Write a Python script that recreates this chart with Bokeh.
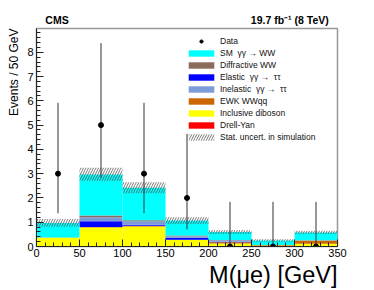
import numpy as np
from bokeh.plotting import figure
from bokeh.models import (Range1d, SingleIntervalTicker, FixedTicker, LinearAxis,
                          Legend, LegendItem, Title)
from bokeh.embed import file_html
from bokeh.resources import INLINE

# ---------------- data ----------------
bin_edges = [0, 50, 100, 150, 200, 250, 300, 350]
drell_yan = [0.01, 0.01, 0.01, 0.01, 0.005, 0.0, 0.0]
inclusive_diboson = [0.35, 0.77, 0.81, 0.26, 0.12, 0.04, 0.11]
ewk_wwqq = [0.01, 0.02, 0.03, 0.01, 0.05, 0.02, 0.14]
elastic_tautau = [0.0, 0.24, 0.05, 0.08, 0.02, 0.0, 0.0]
inelastic_tautau = [0.0, 0.17, 0.14, 0.06, 0.06, 0.0, 0.01]
diffractive_ww = [0.0, 0.07, 0.04, 0.03, 0.01, 0.0, 0.0]
sm_ggww = [0.60, 1.69, 1.34, 0.62, 0.335, 0.19, 0.32]
stat_unc = [0.16, 0.27, 0.23, 0.14, 0.08, 0.05, 0.07]

data_x = [25, 75, 125, 175, 225, 275, 325]
data_y = [3, 5, 3, 2, 0, 0, 0]
data_lo = [1.37, 2.84, 1.37, 0.71, 0.0, 0.0, 0.0]
data_hi = [5.92, 8.38, 5.92, 4.64, 1.84, 1.84, 1.84]

x_ticks = [0, 50, 100, 150, 200, 250, 300, 350]
y_ticks = [0, 1, 2, 3, 4, 5, 6, 7, 8]

x_title = "M(\u03bce) [GeV]"
y_title = "Events / 50 GeV"
header_texts = ["CMS", "19.7 fb\u207b\u00b9 (8 TeV)"]
header_pos = [23.8, 294.5]   # horizontal placement of the header texts

names = {
    "dy": "Drell-Yan",
    "vv": "Inclusive diboson",
    "ewk": "EWK WWqq",
    "el": "Elastic  \u03b3\u03b3 \u2192  \u03c4\u03c4",
    "inel": "Inelastic  \u03b3\u03b3 \u2192  \u03c4\u03c4",
    "diff": "Diffractive WW",
    "sm": "SM  \u03b3\u03b3 \u2192 WW",
}
# stack order bottom -> top
layers = [
    ("dy", drell_yan, "#ff0000"),
    ("vv", inclusive_diboson, "#ffff00"),
    ("ewk", ewk_wwqq, "#cc6600"),
    ("el", elastic_tautau, "#0000ff"),
    ("inel", inelastic_tautau, "#7b9bd9"),
    ("diff", diffractive_ww, "#8b6b5b"),
    ("sm", sm_ggww, "#00ffff"),
]
legend_order = ["sm", "diff", "el", "inel", "ewk", "vv", "dy"]

FONT = "Liberation Sans"

p = figure(width=366, height=288, output_backend="svg", toolbar_location=None,
           x_range=Range1d(0, 350), y_range=Range1d(0, 8.98),
           min_border_left=36, min_border_right=29, min_border_top=28,
           min_border_bottom=42)
p.xgrid.visible = False
p.ygrid.visible = False
p.background_fill_color = "white"
p.border_fill_color = "white"
p.outline_line_color = "#999999"
p.outline_line_width = 1.5

left = np.array(bin_edges[:-1], dtype=float)
right = np.array(bin_edges[1:], dtype=float)
bottom = np.zeros(len(left))
renderers = {}
for key, vals, col in layers:
    top = bottom + np.array(vals, dtype=float)
    r = p.quad(left=left, right=right, bottom=bottom, top=top,
               fill_color=col, line_color=None)
    renderers[key] = r
    bottom = top
total = bottom
unc = np.array(stat_unc)
r_unc = p.quad(left=left, right=right, bottom=total - unc, top=total + unc,
               fill_alpha=0, line_alpha=0, hatch_pattern="/", hatch_color="#555555",
               hatch_scale=5, hatch_weight=0.8)

p.segment(x0=data_x, x1=data_x, y0=data_lo, y1=data_hi, line_color="#333333",
          line_width=1)
r_data = p.scatter(x=data_x, y=data_y, size=5, color="black")

# axes
for ax, ticks in ((p.xaxis, x_ticks), (p.yaxis, y_ticks)):
    ax.ticker = SingleIntervalTicker(interval=ticks[1] - ticks[0], num_minor_ticks=5)
    ax.major_tick_in = 7
    ax.major_tick_out = 0
    ax.minor_tick_in = 4
    ax.minor_tick_out = 0
    ax.major_label_text_font = FONT
    ax.major_label_text_font_size = "11px"
    ax.major_label_text_color = "black"
    ax.axis_line_color = "#222222"
    ax.major_tick_line_color = "#222222"
    ax.minor_tick_line_color = "#222222"
    ax.major_label_standoff = 3
p.xaxis.major_label_standoff = 2

# axis titles as side titles (right-aligned like ROOT)
p.add_layout(Title(text=x_title, align="right", text_font=FONT,
                   text_font_style="normal", text_font_size="23.5px",
                   text_color="black", standoff=0, offset=0), "below")
p.add_layout(Title(text=y_title, align="right", text_font=FONT,
                   text_font_style="normal", text_font_size="12px",
                   text_color="black", standoff=8, offset=0), "left")

# header texts on a bare top axis
top_ax = LinearAxis(ticker=FixedTicker(ticks=header_pos),
                    major_label_overrides={header_pos[0]: header_texts[0],
                                           header_pos[1]: header_texts[1]},
                    axis_line_color=None, major_tick_line_color=None,
                    minor_tick_line_color=None, major_tick_in=0, major_tick_out=0,
                    major_label_standoff=3, major_label_text_font=FONT,
                    major_label_text_font_style="bold",
                    major_label_text_font_size="10.5px",
                    major_label_text_color="black")
p.add_layout(top_ax, "above")

# legend
items = [LegendItem(label="Data", renderers=[r_data])]
for key in legend_order:
    items.append(LegendItem(label=names[key], renderers=[renderers[key]]))
items.append(LegendItem(label="Stat. uncert. in simulation", renderers=[r_unc]))
legend = Legend(items=items, location=(149, 104), padding=0, margin=0,
                border_line_color=None, background_fill_alpha=0,
                glyph_width=32, glyph_height=8, label_height=9, spacing=2,
                label_standoff=3, label_text_font=FONT,
                label_text_font_size="8.5px", label_text_color="#111111")
p.add_layout(legend)

open("out.html", "w").write(file_html(p, INLINE))
